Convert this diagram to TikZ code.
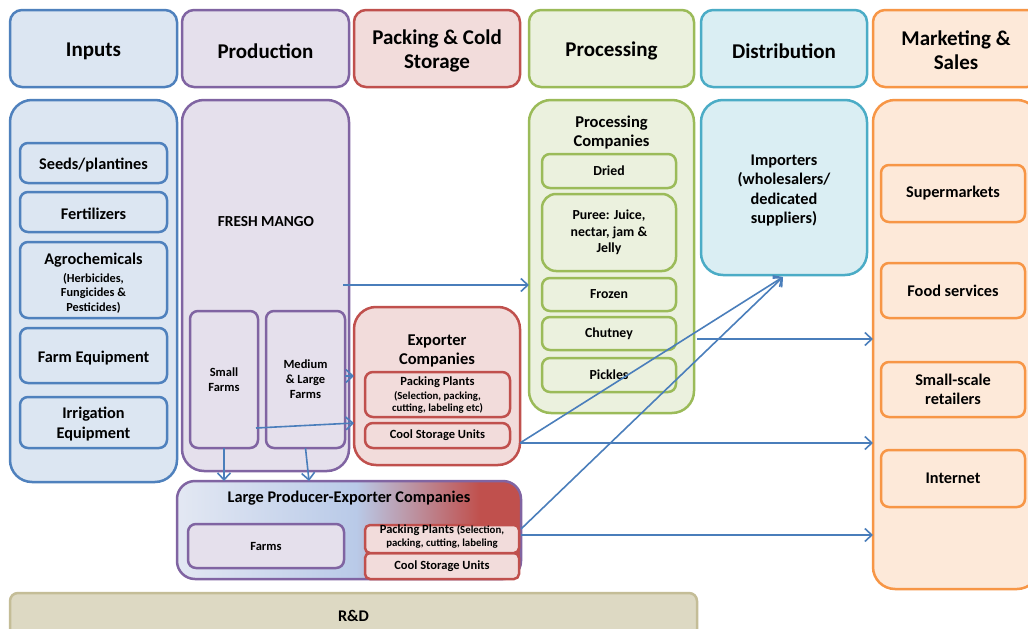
\documentclass[tikz,border=0pt]{standalone}
\usepackage{fontspec}
\setmainfont{Carlito}
\usetikzlibrary{arrows.meta}
\definecolor{inB}{HTML}{4F81BD}\definecolor{inF}{HTML}{DCE6F2}
\definecolor{prB}{HTML}{8064A2}\definecolor{prF}{HTML}{E5E0EC}
\definecolor{pkB}{HTML}{C0504D}\definecolor{pkF}{HTML}{F2DCDB}
\definecolor{pcB}{HTML}{9BBB59}\definecolor{pcF}{HTML}{EBF1DE}
\definecolor{diB}{HTML}{4BACC6}\definecolor{diF}{HTML}{DAEEF3}
\definecolor{mkB}{HTML}{F79646}\definecolor{mkF}{HTML}{FDE9D9}
\definecolor{rdB}{HTML}{C4BD97}\definecolor{rdF}{HTML}{DDD9C3}
\definecolor{arC}{HTML}{4A7EBB}
\definecolor{lpL}{HTML}{E3E8F3}\definecolor{lpM}{HTML}{B9CAE8}
\pgfdeclarehorizontalshading{lpeshade}{100bp}{color(0bp)=(lpL); color(25bp)=(lpL); color(51bp)=(lpM); color(69bp)=(pkB); color(100bp)=(pkB)}
\newcommand\hdrfont{\fontsize{21}{24}\selectfont\bfseries}
\newcommand\midfont{\fontsize{16.3}{19.5}\selectfont\bfseries}
\newcommand\ttlfont{\fontsize{16.5}{19}\selectfont\bfseries}
\newcommand\fmfont{\fontsize{15.3}{19}\selectfont\bfseries}
\newcommand\smlfont{\fontsize{13.8}{16.5}\selectfont\bfseries}
\newcommand\boxfont{\fontsize{12.5}{16}\selectfont\bfseries}
\newcommand\farmfont{\fontsize{12.5}{15}\selectfont\bfseries}
\newcommand\subfont{\fontsize{12.3}{14.5}\selectfont\bfseries}
\newcommand\ppsub{\fontsize{10.8}{12.5}\selectfont\bfseries}
\begin{document}
\begin{tikzpicture}[x=1pt,y=-1pt,
  every node/.style={inner sep=0pt, outer sep=0pt, align=center, text=black},
  box/.style args={#1/#2}{draw=#1, fill=#2, line width=2.5pt, rectangle},
  hdr/.style={rounded corners=12pt, minimum height=77pt},
  big/.style={rounded corners=22pt},
  itm/.style={rounded corners=8pt},
  arr/.style={draw=arC, line width=1.6pt, -{Straight Barb[length=7pt,width=13pt,line width=1.6pt]}},
]
\clip (0,0) rectangle (1028,629);
\fill[white] (0,0) rectangle (1028,629);
% headers
\node[box=inB/inF, hdr, minimum width=167pt] (hIn) at (93.5,48.5) {};
\node[box=prB/prF, hdr, minimum width=167pt] (hPr) at (265.5,48.5) {};
\node[box=pkB/pkF, hdr, minimum width=166pt] (hPk) at (437,48.5) {};
\node[box=pcB/pcF, hdr, minimum width=165pt] (hPc) at (611.5,48.5) {};
\node[box=diB/diF, hdr, minimum width=166pt] (hDi) at (784,48.5) {};
\node[box=mkB/mkF, hdr, minimum width=166pt] (hMk) at (956,48.5) {};
\node[font=\hdrfont] (tIn) at (93.5,51) {Inputs};
\node[font=\hdrfont] (tPr) at (265.5,51) {Production};
\node[font=\hdrfont] (tPk) at (437,50.5) {Packing \& Cold\\Storage};
\node[font=\hdrfont] (tPc) at (611.5,51) {Processing};
\node[font=\hdrfont] (tDi) at (784,51) {Distribution};
\node[font=\hdrfont] (tMk) at (956,50.5) {Marketing \&\\Sales};
% big boxes
\node[box=inB/inF, big, minimum width=167pt, minimum height=382pt] (bIn) at (93.5,291) {};
\node[box=prB/prF, big, minimum width=167pt, minimum height=371pt] (bPr) at (265.5,285.5) {};
\node[box=pkB/pkF, big, minimum width=166pt, minimum height=158pt] (bEx) at (437,386) {};
\node[box=pcB/pcF, big, minimum width=165pt, minimum height=313pt] (bPc) at (611.5,256.5) {};
\node[box=diB/diF, big, minimum width=166pt, minimum height=175pt] (bDi) at (784,187.5) {};
\node[font=\midfont] (tIm) at (784,190.5) {Importers\\(wholesalers/\\dedicated\\suppliers)};
\node[box=mkB/mkF, big, minimum width=166pt, minimum height=489pt] (bMk) at (956,344.5) {};
% Large producer-exporter
\shade[shading=lpeshade, rounded corners=18pt] (177,481) rectangle (521,579);
\node[draw=prB, line width=2.5pt, rounded corners=18pt, minimum width=344pt, minimum height=98pt] (bLP) at (349,530) {};
% R&D
\node[box=rdB/rdF, rounded corners=8pt, minimum width=687pt, minimum height=60pt] (bRD) at (353.5,623) {};
\node[font=\midfont] (tRD) at (353.5,615.5) {R\&D};
% inputs items
\node[box=inB/inF, itm, minimum width=147pt, minimum height=40pt] (iSeed) at (93.5,163) {};
\node[font=\midfont] at (93.5,165) {Seeds/plantines};
\node[box=inB/inF, itm, minimum width=147pt, minimum height=40pt] (iFert) at (93.5,212) {};
\node[font=\midfont] at (93.5,213.5) {Fertilizers};
\node[box=inB/inF, itm, minimum width=147pt, minimum height=76pt] (iAgro) at (93.5,280) {};
\node[font=\midfont] at (93.5,283) {Agrochemicals\\[-1.5pt]{\subfont (Herbicides,}\\[-5pt]{\subfont Fungicides \&}\\[-5pt]{\subfont Pesticides)}};
\node[box=inB/inF, itm, minimum width=147pt, minimum height=55pt] (iFarm) at (93.5,355.5) {};
\node[font=\midfont] at (93.5,358) {Farm Equipment};
\node[box=inB/inF, itm, minimum width=147pt, minimum height=51pt] (iIrr) at (93.5,422.5) {};
\node[font=\midfont] at (93.5,424) {Irrigation\\Equipment};
% production
\node[font=\fmfont] (tFM) at (266,222) {FRESH MANGO};
\node[box=prB/prF, itm, minimum width=68pt, minimum height=137pt, font=\farmfont] (pSm) at (224,379.5) {Small\\Farms};
\node[box=prB/prF, itm, minimum width=79pt, minimum height=137pt, font=\farmfont] (pMd) at (305.5,379.5) {Medium\\\& Large\\Farms};
% exporter
\node[font=\ttlfont] (tEx) at (437,351) {Exporter\\Companies};
\node[box=pkB/pkF, itm, minimum width=145pt, minimum height=45pt] (ePP) at (437.5,394.5) {};
\node[font=\ppsub] at (437.5,395) {{\boxfont Packing Plants}\\[1.5pt](Selection, packing,\\[-0.5pt]cutting, labeling etc)};
\node[box=pkB/pkF, itm, minimum width=145pt, minimum height=25pt, font=\boxfont] (eCS) at (437.5,435.5) {Cool Storage Units};
% processing
\node[font=\ttlfont] (tPC) at (611.5,133) {Processing\\Companies};
\node[box=pcB/pcF, itm, minimum width=134pt, minimum height=34pt, font=\smlfont] (cDr) at (609,171) {Dried};
\node[box=pcB/pcF, rounded corners=14pt, line width=2.5pt, minimum width=134pt, minimum height=77pt, font=\smlfont] (cPu) at (609,232.5) {Puree: Juice,\\nectar, jam \&\\Jelly};
\node[box=pcB/pcF, itm, minimum width=134pt, minimum height=33pt, font=\smlfont] (cFr) at (609,294.5) {Frozen};
\node[box=pcB/pcF, itm, minimum width=134pt, minimum height=33pt, font=\smlfont] (cCh) at (609,333.5) {Chutney};
\node[box=pcB/pcF, itm, minimum width=134pt, minimum height=34pt, font=\smlfont] (cPi) at (609,375) {Pickles};
% marketing
\node[box=mkB/mkF, itm, minimum width=144pt, minimum height=57pt, font=\midfont] (mSu) at (953,193.5) {Supermarkets};
\node[box=mkB/mkF, itm, minimum width=144pt, minimum height=55pt, font=\midfont] (mFo) at (953,290.5) {Food services};
\node[box=mkB/mkF, itm, minimum width=144pt, minimum height=55pt, font=\midfont] (mSs) at (953,389.5) {Small-scale\\retailers};
\node[box=mkB/mkF, itm, minimum width=144pt, minimum height=57pt, font=\midfont] (mIn) at (953,478.5) {Internet};
% LPE contents
\node[font=\midfont] (tLP) at (349,498) {Large Producer-Exporter Companies};
\node[box=pkB/pkF, rounded corners=5pt, minimum width=154pt, minimum height=26pt] (lCS) at (442,566) {};
\node[box=prB/prF, itm, minimum width=156pt, minimum height=44pt, font=\boxfont] (lFa) at (266,546) {Farms};
\node[box=pkB/pkF, rounded corners=5pt, minimum width=154pt, minimum height=28pt] (lPP) at (442,539) {};
\node[font=\ppsub] at (442,537) {{\fontsize{12.5}{13}\selectfont\bfseries Packing Plants }(Selection,\\[0.5pt]packing, cutting, labeling};
\node[font=\boxfont] (tCS2) at (442,566.5) {Cool Storage Units};
% connector endpoints
\coordinate (a1s) at (343,285);
\coordinate (a3s) at (256,428);
\coordinate (a3e) at (354,423);
\coordinate (a5e) at (309,481);
\coordinate (a6s) at (697,339);
\coordinate (a7s) at (520,443);
\coordinate (imp) at (783,277);
\coordinate (a9s) at (521,529);
\coordinate (a10s) at (521,535);
% arrows
\draw[arr] (a1s) -- (a1s -| bPc.west);
\draw[arr] (pMd.east |- 0,376) -- (bEx.west |- 0,376);
\draw[arr] (a3s) -- (a3e);
\draw[arr] (pSm.south) -- (pSm.south |- bLP.north);
\draw[arr] (pMd.south) -- (a5e);
\draw[arr] (a6s) -- (a6s -| bMk.west);
\draw[arr] (a7s) -- (a7s -| bMk.west);
\draw[arr] (a7s) -- (imp);
\draw[arr] (a9s) -- (imp);
\draw[arr] (a10s) -- (a10s -| bMk.west);
\end{tikzpicture}
\end{document}
